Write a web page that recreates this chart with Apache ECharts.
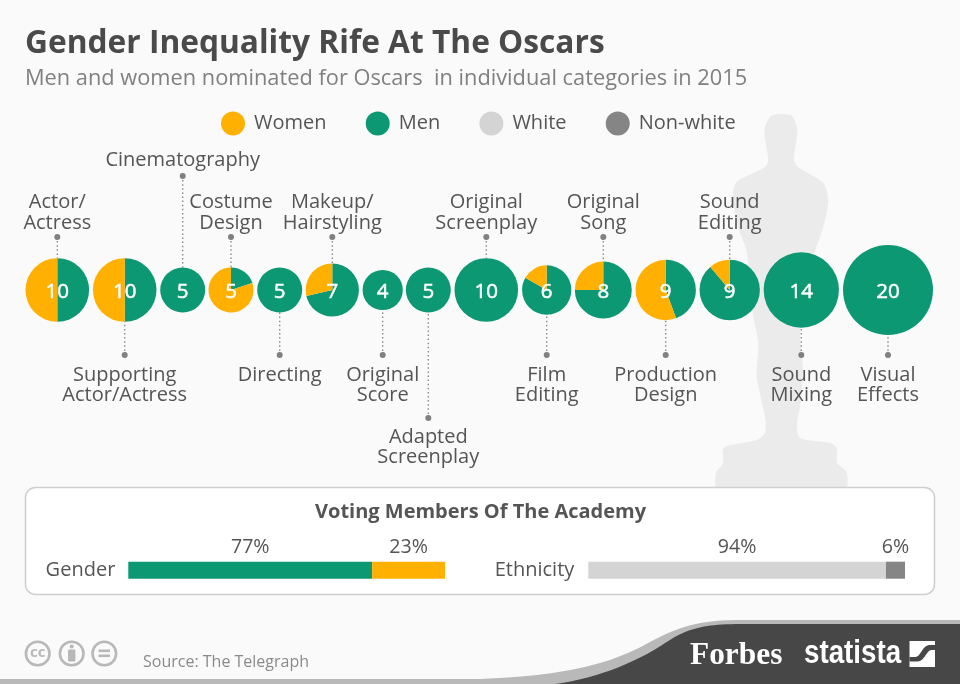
<!DOCTYPE html>
<html>
<head>
<meta charset="utf-8">
<title>Gender Inequality Rife At The Oscars</title>
<style>
html,body{margin:0;padding:0;background:#fafafa;}
#main{width:960px;height:684px;}
</style>
<script src="https://cdn.jsdelivr.net/npm/echarts@6/dist/echarts.min.js"></script>
</head>
<body>
<div id="main"></div>
<script>
// nominations per category
var categories = ['Actor/\nActress','Supporting\nActor/Actress','Cinematography','Costume\nDesign','Directing','Makeup/\nHairstyling','Original\nScore','Adapted\nScreenplay','Original\nScreenplay','Film\nEditing','Original\nSong','Production\nDesign','Sound\nEditing','Sound\nMixing','Visual\nEffects'];
var women = [5,5,0,4,0,2,0,0,0,1,2,5,1,0,0];
var men   = [5,5,5,1,5,5,4,5,10,5,6,4,8,14,20];

// academy members, percent
var genderMen = 77, genderWomen = 23;
var ethWhite = 94, ethNonWhite = 6;

// where each bubble goes on the page
var centerX = [57.3,124.7,182.7,231,279.7,332.3,382.7,428.3,486.3,546.7,603.3,665.7,729.7,801.3,888];
var dotY    = [237,355,176,237,355,237,355,418,237,355,237,355,237,355,355];
var labelY  = [192.5,365,150,192.5,365,192.5,365,427,192.5,365,192.5,365,192.5,365,365];

var centerY = 290;
var cGreen = '#0c9873', cYellow = '#ffb000', cWhite = '#d4d4d4', cNon = '#858585';
var txt = '#555555', font = '"Open Sans"';

var series = [];
var graphic = [];

// graphic has no svg path type, so flatten curves to points
function curve(p0,c1,c2,p3){
  var pts = [];
  for(var k=0;k<=24;k++){
    var t = k/24, u = 1-t;
    pts.push([
      u*u*u*p0[0]+3*u*u*t*c1[0]+3*u*t*t*c2[0]+t*t*t*p3[0],
      u*u*u*p0[1]+3*u*u*t*c1[1]+3*u*t*t*c2[1]+t*t*t*p3[1]
    ]);
  }
  return pts;
}

graphic.push({type:'polygon',z:0,silent:true,shape:{smooth:0.25,points:[
  [781.7,114],[792,116],[797.3,130],[794,160],[798,167],[823.3,183],[828.3,201.7],[823,228],[815,252],[810,290],[800,330],
  [803,370],[800,406.7],[797,423],[800,438],[830,443],[836.7,448],[837.3,463],[846.7,472],[845,490],
  [718,490],[716,473],[723.3,463],[722.7,450],[726.7,446],[756.7,440],[765,433],[765,416.7],[756.7,376.7],
  [758.3,343],[752.7,313],[746.7,251.7],[738.3,228],[732.7,195],[736.7,181.7],[765,167],[768.3,160],[764.3,130],[771,116]
]},style:{fill:'#ebebeb'}});

// academy box
graphic.push({type:'rect',z:1,silent:true,shape:{x:25.5,y:487.5,width:909,height:107,r:10},style:{fill:'#ffffff',stroke:'#cfcfcf',lineWidth:1.5}});

// footer band
var bandLight = [[0,679]].concat(curve([480,679],[560,676],[610,665],[650,642]),curve([650,642],[680,626],[700,620],[740,620]),[[960,620],[960,684],[0,684]]);
var bandDark = curve([555,684],[600,678],[640,660],[665,643]).concat(curve([665,643],[685,630],[700,624],[740,624]),[[960,624],[960,684]]);
graphic.push({type:'polygon',z:1,silent:true,shape:{points:bandLight},style:{fill:'#b9b9b9'}});
graphic.push({type:'polygon',z:1,silent:true,shape:{points:bandDark},style:{fill:'#474747'}});
graphic.push({type:'text',z:3,silent:true,style:{x:690,y:656,text:'Forbes',fill:'#fff',font:'bold 31.4px "Liberation Serif"',verticalAlign:'middle'}});
graphic.push({type:'text',z:3,silent:true,x:804,y:654,scaleX:0.84,style:{x:0,y:0,text:'statista',fill:'#fff',font:'bold 33px "Liberation Sans"',verticalAlign:'middle'}});
graphic.push({type:'rect',z:3,silent:true,shape:{x:909.5,y:641,width:25.5,height:26},style:{fill:'#fff'}});
var swoosh = curve([915,657],[921,657],[922,645],[930,645]).concat([[935,645],[935,650],[932,650]],curve([932,650],[926,650],[925,661.5],[917,661.5]),[[909.5,661.5],[909.5,657]]);
graphic.push({type:'polygon',z:3,silent:true,shape:{points:swoosh},style:{fill:'#474747'}});

// cc icons
[37.7,71.7,104.3].forEach(function(x){
  graphic.push({type:'circle',z:3,silent:true,shape:{cx:x,cy:653.5,r:11.8},style:{fill:'none',stroke:'#b8b8b8',lineWidth:2.6}});
});
graphic.push({type:'text',z:3,silent:true,style:{x:37.7,y:653,text:'cc',fill:'#b8b8b8',font:'bold 15px "Open Sans"',align:'center',verticalAlign:'middle'}});
graphic.push({type:'circle',z:3,silent:true,shape:{cx:71.7,cy:646.5,r:2},style:{fill:'#b8b8b8'}});
graphic.push({type:'rect',z:3,silent:true,shape:{x:68,y:649.5,width:7.4,height:12,r:1},style:{fill:'#b8b8b8'}});
graphic.push({type:'rect',z:3,silent:true,shape:{x:98.5,y:649.5,width:11.5,height:2.6},style:{fill:'#b8b8b8'}});
graphic.push({type:'rect',z:3,silent:true,shape:{x:98.5,y:654.5,width:11.5,height:2.6},style:{fill:'#b8b8b8'}});

categories.forEach(function(name,i){
  var total = women[i]+men[i];
  var r = 10.06*Math.sqrt(total);   // area follows the count
  var up = dotY[i] < centerY;
  graphic.push({type:'line',z:1,silent:true,shape:{x1:centerX[i],y1:dotY[i],x2:centerX[i],y2:up?centerY-r:centerY+r},
    style:{stroke:'#8a8a8a',lineWidth:1.4,lineDash:[1.5,2.6]}});
  graphic.push({type:'circle',z:1,silent:true,shape:{cx:centerX[i],cy:dotY[i],r:3},style:{fill:'#808080'}});
  graphic.push({type:'text',z:3,silent:true,style:{x:centerX[i],y:labelY[i],text:name,fill:txt,font:'20px "Open Sans"',align:'center',verticalAlign:'top',lineHeight:20.5}});
  series.push({
    type:'pie',name:name,center:[centerX[i],centerY],radius:r,startAngle:90,clockwise:true,silent:true,
    avoidLabelOverlap:false,labelLine:{show:false},label:{show:false},labelLayout:{dy:2},
    data:[
      {name:'Men',value:men[i],itemStyle:{color:cGreen},
        label:{show:true,position:'center',formatter:String(total),color:'#fff',fontFamily:font,fontSize:20.5,
          textBorderColor:'#fff',textBorderWidth:0.5}},
      {name:'Women',value:women[i],itemStyle:{color:cYellow}}
    ]
  });
});

function barLabel(){
  return {show:true,position:'top',distance:4.5,formatter:'{c}%',color:txt,fontFamily:font,fontSize:19.6};
}
series.push({type:'bar',name:'Men',stack:'g',xAxisIndex:0,yAxisIndex:0,barWidth:'100%',itemStyle:{color:cGreen},label:barLabel(),data:[genderMen],silent:true});
series.push({type:'bar',name:'Women',stack:'g',xAxisIndex:0,yAxisIndex:0,barWidth:'100%',itemStyle:{color:cYellow},label:barLabel(),data:[genderWomen],silent:true});
series.push({type:'bar',name:'White',stack:'e',xAxisIndex:1,yAxisIndex:1,barWidth:'100%',itemStyle:{color:cWhite},label:barLabel(),data:[ethWhite],silent:true});
series.push({type:'bar',name:'Non-white',stack:'e',xAxisIndex:1,yAxisIndex:1,barWidth:'100%',itemStyle:{color:cNon},label:barLabel(),data:[ethNonWhite],silent:true});

// z keeps the row names above the white academy box
function yAxisFor(i,label,margin){
  return {type:'category',gridIndex:i,z:3,data:[label],axisLine:{show:false},axisTick:{show:false},
    axisLabel:{color:txt,fontFamily:font,fontSize:20,margin:margin,padding:[4,0,0,0]}};
}
function xAxisFor(i){
  return {type:'value',gridIndex:i,min:0,max:100,show:false};
}

var chart = echarts.init(document.getElementById('main'));
chart.setOption({
  backgroundColor:'#fafafa',
  animation:false,
  tooltip:{show:false},
  title:[
    {text:'Gender Inequality Rife At The Oscars',left:25,top:28,padding:0,textStyle:{color:'#4a4a4a',fontFamily:font,fontSize:31.7,fontWeight:'bold'}},
    {text:'Men and women nominated for Oscars  in individual categories in 2015',left:25,top:68,padding:0,textStyle:{color:'#808080',fontFamily:font,fontSize:21.8,fontWeight:'normal'}},
    {text:'Voting Members Of The Academy',left:315,top:502,padding:0,textStyle:{color:'#555555',fontFamily:font,fontSize:20,fontWeight:'bold'}},
    {text:'Source: The Telegraph',left:143,top:654,padding:0,textStyle:{color:'#8a8a8a',fontFamily:font,fontSize:16,fontWeight:'normal'}}
  ],
  legend:{
    left:221,top:111.5,padding:0,itemWidth:24,itemHeight:24,itemGap:39.2,icon:'circle',selectedMode:false,
    data:['Women','Men','White','Non-white'],
    textStyle:{color:txt,fontFamily:font,fontSize:20,padding:[0,0,0,4]}
  },
  grid:[
    {left:128.3,width:316.7,top:561.7,height:17},
    {left:588.3,width:316.7,top:561.7,height:17}
  ],
  xAxis:[xAxisFor(0),xAxisFor(1)],
  yAxis:[yAxisFor(0,'Gender',13),yAxisFor(1,'Ethnicity',14)],
  graphic:{elements:graphic},
  series:series
});
</script>
</body>
</html>
